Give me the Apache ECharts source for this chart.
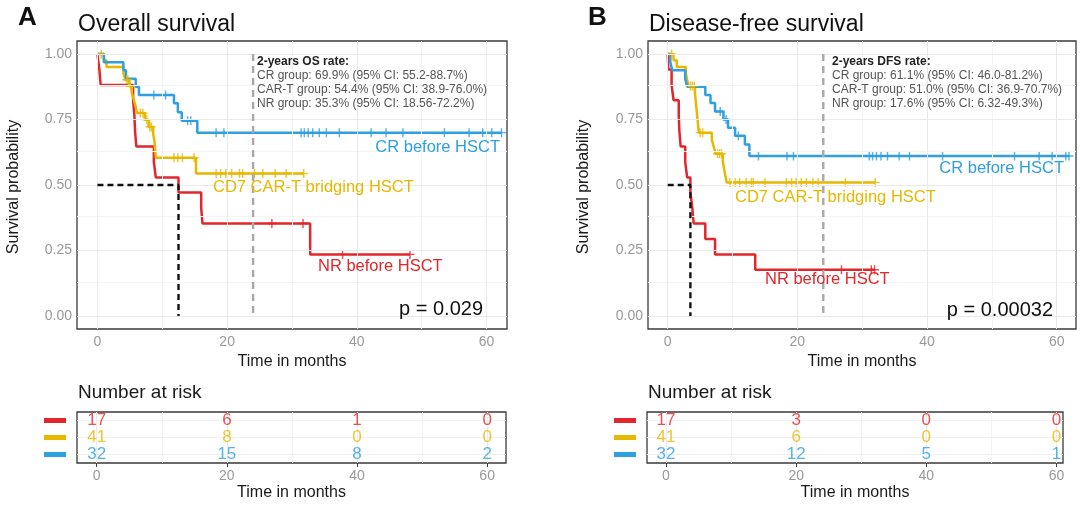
<!DOCTYPE html>
<html><head><meta charset="utf-8">
<script src="https://cdn.jsdelivr.net/npm/echarts@6/dist/echarts.min.js"></script>
<style>html,body{margin:0;padding:0;background:#fff}#c{width:1080px;height:510px}</style>
</head><body><div id="c"></div>
<script>
// ---------------- data ----------------
const xTicks = [0, 20, 40, 60];
const xMinor = [10, 30, 50];
const yTicks = [0, 0.25, 0.5, 0.75, 1];
const yTickLabels = ['0.00', '0.25', '0.50', '0.75', '1.00'];
const yMinor = [0.125, 0.375, 0.625, 0.875];
const groupLabels = ['NR before HSCT', 'CD7 CAR-T bridging HSCT', 'CR before HSCT'];
const riskRows = ['CR', 'CAR-T', 'NR']; // bottom to top

// Overall survival (A)
const osNrTime = [0, 0.3, 0.5, 5.5, 5.7, 5.8, 6.0, 8.7, 9.0, 12.5, 16.0, 16.2, 32.8, 48.2];
const osNrSurv = [1, 0.941, 0.882, 0.824, 0.765, 0.706, 0.647, 0.588, 0.529, 0.471, 0.412, 0.353, 0.235, 0.235];
const osNrCensor = [26.9, 31.7, 37.8, 48.2];
const osCartTime = [0, 1.0, 1.4, 4.0, 4.3, 4.9, 5.3, 5.6, 5.9, 6.1, 7.3, 7.9, 8.6, 8.8, 8.9, 9.0, 15.2, 31.8];
const osCartSurv = [1, 0.976, 0.951, 0.927, 0.902, 0.877, 0.851, 0.826, 0.80, 0.775, 0.749, 0.722, 0.694, 0.665, 0.634, 0.604, 0.544, 0.544];
const osCartCensor = [0.6, 4.5, 4.7, 5.1, 6.6, 7.0, 7.6, 8.1, 8.3, 11.8, 12.4, 13.1, 14.9, 18.3, 19.0, 19.8, 20.7, 21.9, 22.4, 24.2, 25.5, 27.4, 29.1, 31.8];
const osCrTime = [0, 1.0, 4.0, 4.4, 5.9, 6.4, 11.8, 12.4, 13.0, 15.4, 62.3];
const osCrSurv = [1, 0.969, 0.938, 0.906, 0.875, 0.844, 0.812, 0.778, 0.745, 0.70, 0.70];
const osCrCensor = [8.7, 10.5, 13.9, 14.4, 18.3, 19.5, 31.4, 31.9, 32.5, 33.2, 34.2, 35.3, 37.3, 42.2, 44.5, 47.1, 53.5, 57.3, 59.4, 60.8, 62.3];
const osMedian = 12.5;
const osPValue = 'p = 0.029';
const osRateTitle = '2-years OS rate:';
const osRateLines = ['CR group: 69.9% (95% CI: 55.2-88.7%)', 'CAR-T group: 54.4% (95% CI: 38.9-76.0%)', 'NR group: 35.3% (95% CI: 18.56-72.2%)'];
const osRiskNr = [17, 6, 1, 0];
const osRiskCart = [41, 8, 0, 0];
const osRiskCr = [32, 15, 8, 2];

// Disease-free survival (B)
const dfsNrTime = [0, 0.1, 0.6, 0.9, 1.7, 1.8, 2.0, 2.7, 3.0, 3.5, 3.8, 4.0, 5.8, 7.3, 13.5, 31.9];
const dfsNrSurv = [1, 0.941, 0.882, 0.824, 0.765, 0.706, 0.647, 0.588, 0.529, 0.471, 0.412, 0.353, 0.294, 0.235, 0.176, 0.176];
const dfsNrCensor = [26.8, 31.4, 31.9];
const dfsCartTime = [0, 0.9, 1.4, 2.8, 3.0, 3.2, 4.2, 4.3, 4.4, 4.5, 4.6, 4.7, 4.8, 6.8, 7.1, 7.4, 8.5, 8.7, 8.9, 9.1, 32.0];
const dfsCartSurv = [1, 0.976, 0.951, 0.927, 0.902, 0.878, 0.852, 0.827, 0.801, 0.776, 0.750, 0.725, 0.700, 0.673, 0.646, 0.619, 0.590, 0.560, 0.535, 0.510, 0.510];
const dfsCartCensor = [0.6, 3.5, 3.8, 4.1, 5.0, 5.4, 7.7, 8.0, 8.3, 9.6, 10.4, 11.1, 12.1, 12.9, 13.2, 15.0, 18.3, 19.1, 19.8, 20.6, 21.4, 22.4, 23.2, 27.4, 32.0];
const dfsCrTime = [0, 0.4, 0.7, 2.7, 3.0, 5.8, 6.6, 7.3, 8.6, 9.3, 10.4, 11.9, 12.6, 61.9];
const dfsCrSurv = [1, 0.969, 0.938, 0.906, 0.875, 0.844, 0.813, 0.781, 0.750, 0.719, 0.688, 0.655, 0.611, 0.611];
const dfsCrCensor = [8.1, 9.0, 10.9, 14.0, 18.4, 19.4, 31.1, 31.6, 32.2, 32.9, 33.9, 35.7, 37.3, 42.4, 53.5, 57.3, 59.3, 61.4, 61.9];
const dfsMedian = 3.5;
const dfsPValue = 'p = 0.00032';
const dfsRateTitle = '2-years DFS rate:';
const dfsRateLines = ['CR group: 61.1% (95% CI: 46.0-81.2%)', 'CAR-T group: 51.0% (95% CI: 36.9-70.7%)', 'NR group: 17.6% (95% CI: 6.32-49.3%)'];
const dfsRiskNr = [17, 3, 0, 0];
const dfsRiskCart = [41, 6, 0, 0];
const dfsRiskCr = [32, 12, 5, 1];

const landmark = 24;
const medianLevel = 0.5;

// ---------------- styling ----------------
const FONT = '"Liberation Sans", Arial, Helvetica, sans-serif';
const RED = '#E2262B', YEL = '#E7B800', BLU = '#2E9FDF';
const CROSS = 'path://M-1,-0.16L1,-0.16L1,0.16L-1,0.16Z M-0.16,-1L0.16,-1L0.16,1L-0.16,1Z';

function zip(t, s) { return t.map((v, i) => [v, s[i]]); }
function survAt(t, s, x) { let v = s[0]; for (let i = 0; i < t.length; i++) { if (t[i] <= x) v = s[i]; } return v; }

const grids = [
  { left: 77, top: 41, width: 430, height: 288 },
  { left: 648, top: 41, width: 428, height: 288 },
  { left: 77, top: 412, width: 429, height: 51 },
  { left: 647, top: 412, width: 416, height: 51 }
];
const xRanges = [[-3.15, 63.15], [-3.04, 62.98], [-3.03, 62.9], [-2.92, 61.0]];

const option = {
  animation: false,
  backgroundColor: '#fff',
  grid: grids.map(g => Object.assign({ show: true, backgroundColor: '#fff', borderColor: '#3a3a3a', borderWidth: 1.3, containLabel: false }, g)),
  xAxis: xRanges.map((r, i) => ({
    type: 'value', gridIndex: i, min: r[0], max: r[1],
    axisLine: { show: false },
    splitLine: { show: false },
    axisTick: { show: true, customValues: xTicks, length: 4, lineStyle: { color: '#3a3a3a', width: 1 } },
    axisLabel: { show: true, customValues: xTicks, margin: 6, color: '#999', fontSize: 14, fontFamily: FONT },
    name: 'Time in months', nameLocation: 'middle', nameGap: i < 2 ? 20 : 22,
    nameTextStyle: { color: '#1a1a1a', fontSize: 16, fontFamily: FONT, verticalAlign: 'top' }
  })),
  yAxis: [0, 1].map(i => ({
    type: 'value', gridIndex: i, min: -0.05, max: 1.05,
    axisLine: { show: false },
    splitLine: { show: false },
    axisTick: { show: true, customValues: yTicks, length: 4, lineStyle: { color: '#3a3a3a', width: 1 } },
    axisLabel: { show: true, customValues: yTicks, margin: 5, color: '#999', fontSize: 14, fontFamily: FONT,
      formatter: v => yTickLabels[yTicks.indexOf(Math.round(v * 1000) / 1000)] }
  })).concat([2, 3].map(i => ({
    type: 'category', gridIndex: i, data: riskRows,
    axisLine: { show: false },
    splitLine: { show: false },
    axisTick: { show: true, alignWithLabel: true, length: 4, lineStyle: { color: '#3a3a3a', width: 1 } },
    axisLabel: { show: true, margin: 11, formatter: (v, idx) => '{r' + idx + '|}',
      rich: { r0: { width: 22, height: 5, backgroundColor: BLU }, r1: { width: 22, height: 5, backgroundColor: YEL }, r2: { width: 22, height: 5, backgroundColor: RED } } }
  }))),
  series: [],
  graphic: []
};

function gridLines(idx, horizontals, majorColor) {
  const data = [];
  xMinor.forEach(v => data.push({ xAxis: v, lineStyle: { color: '#F4F4F4', width: 1 } }));
  horizontals.minor.forEach(v => data.push({ yAxis: v, lineStyle: { color: '#F4F4F4', width: 1 } }));
  xTicks.forEach(v => data.push({ xAxis: v, lineStyle: { color: '#EAEAEA', width: 1 } }));
  horizontals.major.forEach(v => data.push({ yAxis: v, lineStyle: { color: majorColor, width: 1 } }));
  return {
    type: 'line', xAxisIndex: idx, yAxisIndex: idx, data: [], z: 1, silent: true,
    markLine: { silent: true, symbol: ['none', 'none'], label: { show: false }, lineStyle: { type: 'solid' },
      emphasis: { disabled: true }, animation: false, data: data }
  };
}

function addPanel(idx, curves, median) {
  option.series.push(gridLines(idx, { major: yTicks, minor: yMinor }, '#EAEAEA'));
  curves.forEach(c => {
    option.series.push({
      type: 'line', xAxisIndex: idx, yAxisIndex: idx, step: 'end', showSymbol: false, z: 3,
      data: zip(c.t, c.s), lineStyle: { color: c.color, width: 2.5 }, itemStyle: { color: c.color }, silent: true
    });
    option.series.push({
      type: 'scatter', xAxisIndex: idx, yAxisIndex: idx, symbol: CROSS, symbolSize: 9, z: 4, silent: true,
      data: c.cens.map(x => [x, survAt(c.t, c.s, x)]), itemStyle: { color: c.color }
    });
  });
  option.series.push({
    type: 'line', xAxisIndex: idx, yAxisIndex: idx, showSymbol: false, z: 5, silent: true,
    data: [[landmark, 1], [landmark, 0]], lineStyle: { color: '#A8A8A8', width: 2.4, type: [7, 5] }
  });
  option.series.push({
    type: 'line', xAxisIndex: idx, yAxisIndex: idx, showSymbol: false, z: 5, silent: true,
    data: [[0, medianLevel], [median, medianLevel], [median, 0]], lineStyle: { color: '#111', width: 2.4, type: [6, 4] }
  });
}

function addRisk(idx, nr, cart, cr) {
  option.series.push(gridLines(idx, { major: riskRows, minor: [] }, '#F1F1F1'));
  [[nr, 'NR', RED], [cart, 'CAR-T', YEL], [cr, 'CR', BLU]].forEach(([vals, row, col]) => {
    option.series.push({
      type: 'scatter', xAxisIndex: idx, yAxisIndex: idx, symbolSize: 1, z: 6, silent: true,
      itemStyle: { color: 'transparent' },
      data: xTicks.map((x, i) => [x, row, vals[i]]),
      label: { show: true, position: 'inside', formatter: p => String(p.value[2]), color: col, fontSize: 17, fontFamily: FONT }
    });
  });
}

addPanel(0, [
  { t: osNrTime, s: osNrSurv, cens: osNrCensor, color: RED },
  { t: osCartTime, s: osCartSurv, cens: osCartCensor, color: YEL },
  { t: osCrTime, s: osCrSurv, cens: osCrCensor, color: BLU }
], osMedian);
addPanel(1, [
  { t: dfsNrTime, s: dfsNrSurv, cens: dfsNrCensor, color: RED },
  { t: dfsCartTime, s: dfsCartSurv, cens: dfsCartCensor, color: YEL },
  { t: dfsCrTime, s: dfsCrSurv, cens: dfsCrCensor, color: BLU }
], dfsMedian);
addRisk(2, osRiskNr, osRiskCart, osRiskCr);
addRisk(3, dfsRiskNr, dfsRiskCart, dfsRiskCr);

function txt(x, y, text, font, fill, align, rot) {
  return { type: 'text', x: x, y: y, rotation: rot || 0, silent: true, z: 10,
    style: { text: text, font: font, fill: fill, align: align || 'left', verticalAlign: 'middle' } };
}
const G = option.graphic;
// panel letters and titles
G.push(txt(18, 18, 'A', 'bold 26px ' + FONT, '#111'));
G.push(txt(78, 25, 'Overall survival', '23px ' + FONT, '#111'));
G.push(txt(588, 18, 'B', 'bold 26px ' + FONT, '#111'));
G.push(txt(649, 25, 'Disease-free survival', '23px ' + FONT, '#111'));
// y axis titles
G.push(txt(14, 187, 'Survival probability', '16px ' + FONT, '#1a1a1a', 'center', Math.PI / 2));
G.push(txt(584, 187, 'Survival probability', '16px ' + FONT, '#1a1a1a', 'center', Math.PI / 2));
// rate annotations
function rate(x, title, lines) {
  G.push(txt(x, 62, title, 'bold 12px ' + FONT, '#222'));
  lines.forEach((l, i) => G.push(txt(x, 76 + i * 14, l, '12px ' + FONT, '#555')));
}
rate(257, osRateTitle, osRateLines);
rate(832, dfsRateTitle, dfsRateLines);
// group labels
G.push(txt(500, 147, groupLabels[2], '16.5px ' + FONT, BLU, 'right'));
G.push(txt(213, 187, groupLabels[1], '16.5px ' + FONT, YEL));
G.push(txt(318, 266, groupLabels[0], '16.5px ' + FONT, RED));
G.push(txt(1064, 168, groupLabels[2], '16.5px ' + FONT, BLU, 'right'));
G.push(txt(735, 197, groupLabels[1], '16.5px ' + FONT, YEL));
G.push(txt(765, 279, groupLabels[0], '16.5px ' + FONT, RED));
// p values
G.push(txt(483, 309, osPValue, '20px ' + FONT, '#111', 'right'));
G.push(txt(1053, 310, dfsPValue, '20px ' + FONT, '#111', 'right'));
// risk table titles
G.push(txt(78, 393, 'Number at risk', '19px ' + FONT, '#1a1a1a'));
G.push(txt(648, 393, 'Number at risk', '19px ' + FONT, '#1a1a1a'));

const chart = echarts.init(document.getElementById('c'), null, { renderer: 'canvas' });
chart.setOption(option);
</script>
</body></html>
